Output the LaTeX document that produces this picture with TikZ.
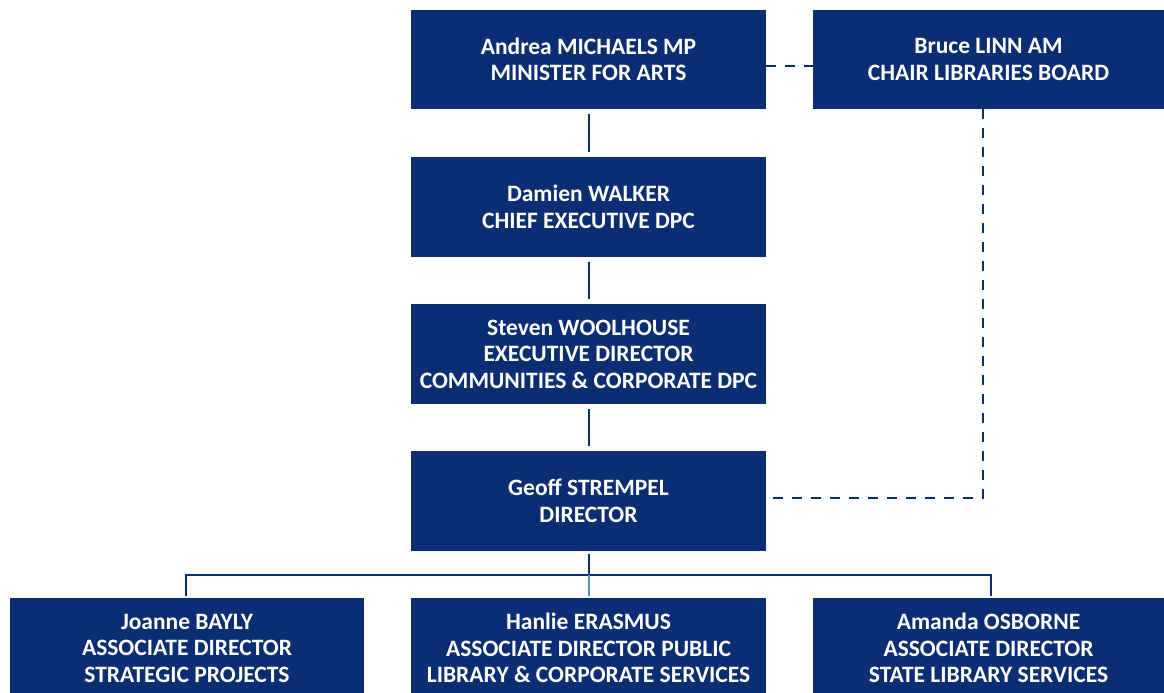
\documentclass[tikz,border=0pt]{standalone}
\usepackage{fontspec}
\setmainfont{Carlito}
\definecolor{navy}{RGB}{10,45,115}
\definecolor{lightline}{RGB}{90,140,200}
\begin{document}
\begin{tikzpicture}[x=1pt,y=1pt,
  box/.style={fill=navy,draw=none,minimum height=99pt,align=center,text=white,
    font=\fontsize{23.5}{26.5}\selectfont\bfseries,inner sep=0pt},
  conn/.style={draw=navy,line width=2pt},
  dconn/.style={draw=navy,line width=2.5pt,dash pattern=on 10pt off 9pt}]
\useasboundingbox (0,0) rectangle (1164,693);
\node[box,minimum width=355pt] (A) at (588.5,633.5) {Andrea MICHAELS MP\\MINISTER FOR ARTS};
\node[box,minimum width=351pt] (B) at (988.5,633.5) {Bruce LINN AM\\CHAIR LIBRARIES BOARD};
\node[box,minimum width=355pt,minimum height=100pt] (C) at (588.5,486) {Damien WALKER\\CHIEF EXECUTIVE DPC};
\node[box,minimum width=355pt,minimum height=100pt] (D) at (588.5,339) {Steven WOOLHOUSE\\EXECUTIVE DIRECTOR\\COMMUNITIES \& CORPORATE DPC};
\node[box,minimum width=355pt,minimum height=100pt] (E) at (588.5,192) {Geoff STREMPEL\\DIRECTOR};
\node[box,minimum width=354pt,minimum height=100pt] (F1) at (187,45) {Joanne BAYLY\\ASSOCIATE DIRECTOR\\STRATEGIC PROJECTS};
\node[box,minimum width=355pt,minimum height=100pt] (F2) at (588.5,45) {Hanlie ERASMUS\\ASSOCIATE DIRECTOR PUBLIC\\LIBRARY \& CORPORATE SERVICES};
\node[box,minimum width=351pt,minimum height=100pt] (F3) at (988.5,45) {Amanda OSBORNE\\ASSOCIATE DIRECTOR\\STATE LIBRARY SERVICES};
\coordinate (bus) at (588.5,118);
\coordinate (bend) at (983,195);
\draw[conn] ([yshift=-5pt]A.south) -- ([yshift=5pt]C.north);
\draw[conn] ([yshift=-5pt]C.south) -- ([yshift=5pt]D.north);
\draw[conn] ([yshift=-5pt]D.south) -- ([yshift=5pt]E.north);
\draw[conn] ([yshift=-3pt]E.south) -- (bus);
\draw[conn] ([yshift=2pt]F1.north -| 186,0) |- (bus) -| ([yshift=2pt]F3.north -| 991,0);
\draw[draw=lightline,line width=2pt] (bus) -- ([yshift=2pt]F2.north);
\draw[dconn] (A.east |- 0,627) -- (B.west |- 0,627);
\draw[dconn] (B.south -| bend) -- (bend) -- (E.east |- bend);
\end{tikzpicture}
\end{document}
